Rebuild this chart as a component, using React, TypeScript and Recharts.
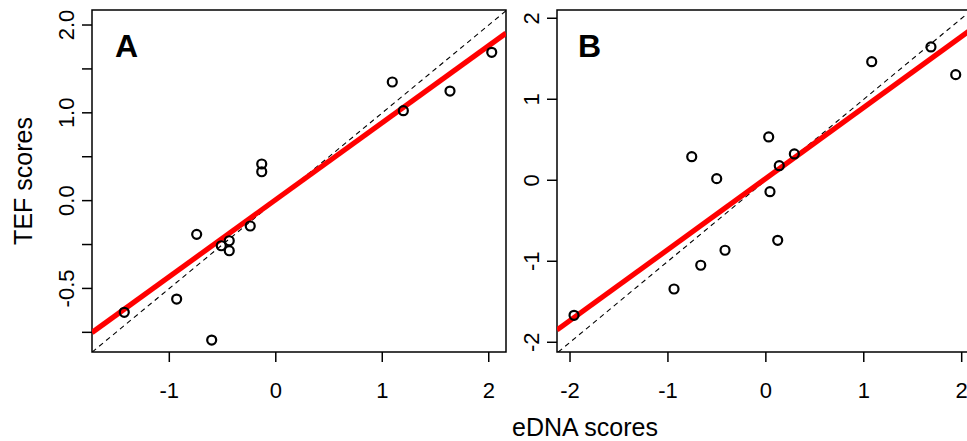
import { ScatterChart, Scatter, XAxis, YAxis, ReferenceArea } from "recharts";

// panel A: eDNA vs TEF scores
const ednaA = [1.094, 1.198, 1.636, 2.028, -0.132, -0.132, -0.743, -0.512, -0.437, -0.437, -0.24, -0.931, -1.423, -0.602];
const tefA = [1.351, 1.024, 1.248, 1.689, 0.417, 0.329, -0.384, -0.514, -0.457, -0.571, -0.289, -1.121, -1.272, -1.588];

// panel B
const ednaB = [-0.757, -0.502, 0.029, 0.137, 0.291, 0.042, 1.081, 1.686, 1.939, -1.959, -0.938, -0.665, -0.417, 0.121];
const tefB = [0.291, 0.02, 0.535, 0.18, 0.325, -0.141, 1.464, 1.646, 1.304, -1.667, -1.342, -1.049, -0.864, -0.741];

// fitted regression lines (slope, intercept)
const fitA = [0.877, 0.011];
const fitB = [0.877, 0.022];

const xTicksA = [-1, 0, 1, 2];
const xTickLabelsA = ["-1", "0", "1", "2"];
const yTicksA = [2, 1.5, 1, 0.5, 0, -0.5, -1, -1.5];
const yTickLabelsA = ["2.0", "", "1.0", "", "0.0", "", "-0.5", ""];

const xTicksB = [-2, -1, 0, 1, 2];
const xTickLabelsB = ["-2", "-1", "0", "1", "2"];
const yTicksB = [2, 1, 0, -1, -2];
const yTickLabelsB = ["2", "1", "0", "-1", "-2"];

const FONT = "'Liberation Sans', Arial, Helvetica, sans-serif";

const xDomA: [number, number] = [-1.726, 2.162];
const yDomA: [number, number] = [-1.724, 2.171];
const xDomB: [number, number] = [-2.133, 2.187];
const yDomB: [number, number] = [-2.12, 2.102];

function toPoints(xs: number[], ys: number[]) {
  return xs.map((x, i) => ({ x, y: ys[i] }));
}

// end points of y = a + b*x clipped to the plot box
function clipLine(b: number, a: number, xd: [number, number], yd: [number, number]) {
  let x0 = xd[0];
  let x1 = xd[1];
  const xAtY0 = (yd[0] - a) / b;
  const xAtY1 = (yd[1] - a) / b;
  x0 = Math.max(x0, Math.min(xAtY0, xAtY1));
  x1 = Math.min(x1, Math.max(xAtY0, xAtY1));
  return [
    { x: x0, y: a + b * x0 },
    { x: x1, y: a + b * x1 },
  ];
}

const Circle = (props: any) => (
  <circle cx={props.cx} cy={props.cy} r={4.5} fill="none" stroke="#000" strokeWidth={2.2} />
);
const Nothing = () => <g />;

const makeXTick = (ticks: number[], labels: string[]) => (props: any) => {
  const { x, y, payload } = props;
  const i = ticks.indexOf(payload.value);
  return (
    <text x={x} y={y + 34} textAnchor="middle" fontSize={22} fontFamily={FONT} fill="#000">
      {i >= 0 ? labels[i] : ""}
    </text>
  );
};

const makeYTick = (ticks: number[], labels: string[]) => (props: any) => {
  const { x, y, payload } = props;
  const i = ticks.indexOf(payload.value);
  const bx = x - 6;
  return (
    <text
      x={bx}
      y={y}
      transform={`rotate(-90, ${bx}, ${y})`}
      textAnchor="middle"
      fontSize={22}
      fontFamily={FONT}
      fill="#000"
    >
      {i >= 0 ? labels[i] : ""}
    </text>
  );
};

interface PanelProps {
  xs: number[];
  ys: number[];
  fit: number[];
  xDom: [number, number];
  yDom: [number, number];
  xTicks: number[];
  xLabels: string[];
  yTicks: number[];
  yLabels: string[];
  width: number;
  margin: { top: number; right: number; bottom: number; left: number };
  yAxisWidth: number;
}

function Panel({ xs, ys, fit, xDom, yDom, xTicks, xLabels, yTicks, yLabels, width, margin, yAxisWidth }: PanelProps) {
  const pts = toPoints(xs, ys);
  const redLine = clipLine(fit[0], fit[1], xDom, yDom);
  const oneToOne = clipLine(1, 0, xDom, yDom);
  return (
    <ScatterChart width={width} height={441} margin={margin}>
      <XAxis
        type="number"
        dataKey="x"
        domain={xDom}
        allowDataOverflow
        ticks={xTicks}
        interval={0}
        axisLine={false}
        tickSize={10}
        tickLine={{ stroke: "#000", strokeWidth: 1.5 }}
        tick={makeXTick(xTicks, xLabels)}
        height={40}
      />
      <YAxis
        type="number"
        dataKey="y"
        domain={yDom}
        allowDataOverflow
        ticks={yTicks}
        interval={0}
        axisLine={false}
        tickSize={10}
        tickLine={{ stroke: "#000", strokeWidth: 1.5 }}
        tick={makeYTick(yTicks, yLabels)}
        width={yAxisWidth}
      />
      <ReferenceArea
        x1={xDom[0]}
        x2={xDom[1]}
        y1={yDom[0]}
        y2={yDom[1]}
        fill="none"
        stroke="#000"
        strokeWidth={1.5}
      />
      <Scatter
        data={oneToOne}
        line={{ stroke: "#000", strokeWidth: 1.1, strokeDasharray: "5 4" }}
        shape={Nothing}
        isAnimationActive={false}
      />
      <Scatter
        data={redLine}
        line={{ stroke: "#ff0000", strokeWidth: 5.2 }}
        shape={Nothing}
        isAnimationActive={false}
      />
      <Scatter data={pts} shape={Circle} isAnimationActive={false} />
    </ScatterChart>
  );
}

export default function App() {
  return (
    <div
      style={{
        position: "fixed",
        left: 0,
        top: 0,
        width: 967,
        height: 441,
        overflow: "hidden",
        background: "#fff",
        fontFamily: FONT,
      }}
    >
      <div style={{ position: "absolute", left: 0, top: 0 }}>
        <Panel
          xs={ednaA}
          ys={tefA}
          fit={fitA}
          xDom={xDomA}
          yDom={yDomA}
          xTicks={xTicksA}
          xLabels={xTickLabelsA}
          yTicks={yTicksA}
          yLabels={yTickLabelsA}
          width={520}
          margin={{ top: 10, right: 14, bottom: 49, left: 32 }}
          yAxisWidth={60}
        />
      </div>
      <div style={{ position: "absolute", left: 520, top: 0 }}>
        <Panel
          xs={ednaB}
          ys={tefB}
          fit={fitB}
          xDom={xDomB}
          yDom={yDomB}
          xTicks={xTicksB}
          xLabels={xTickLabelsB}
          yTicks={yTicksB}
          yLabels={yTickLabelsB}
          width={470}
          margin={{ top: 10, right: 10, bottom: 49, left: 0 }}
          yAxisWidth={37}
        />
      </div>
      <svg
        width={967}
        height={441}
        style={{ position: "absolute", left: 0, top: 0, pointerEvents: "none" }}
      >
        <text x={32} y={181} transform="rotate(-90, 32, 181)" textAnchor="middle" fontSize={25} fontFamily={FONT}>
          TEF scores
        </text>
        <text x={585} y={436} textAnchor="middle" fontSize={25} fontFamily={FONT}>
          eDNA scores
        </text>
        <text x={115} y={57} fontSize={32} fontWeight="bold" fontFamily={FONT}>
          A
        </text>
        <text x={578} y={57} fontSize={32} fontWeight="bold" fontFamily={FONT}>
          B
        </text>
      </svg>
    </div>
  );
}
